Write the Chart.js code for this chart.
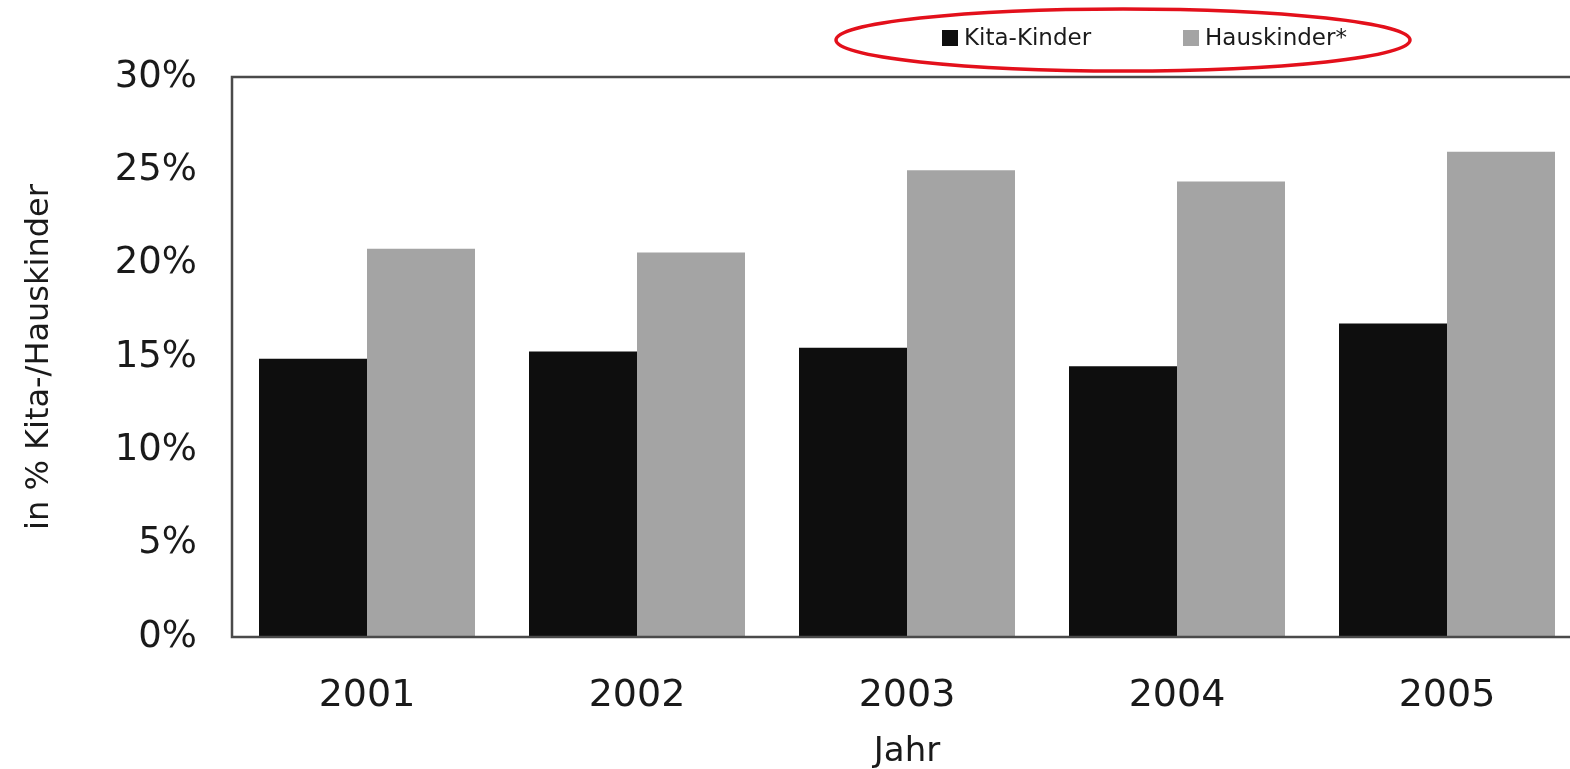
<!DOCTYPE html>
<html lang="de">
<head>
<meta charset="utf-8">
<title>Kita-Kinder / Hauskinder</title>
<script src="https://cdn.jsdelivr.net/npm/chart.js@4.4.1/dist/chart.umd.min.js"></script>
<style>
    html, body { margin: 0; padding: 0; background: #fff; overflow: hidden; }
    #wrap { position: relative; width: 1600px; height: 769px; }
</style>
</head>
<body>
<div id="wrap"><canvas id="balkenChart"></canvas></div>
<script>
// Daten
const jahre = ['2001', '2002', '2003', '2004', '2005'];
const kitaKinder = [14.9, 15.3, 15.5, 14.5, 16.8];
const hausKinder = [20.8, 20.6, 25.0, 24.4, 26.0];
const yTicks = [0, 5, 10, 15, 20, 25, 30];

const SCHRIFT = "'DejaVu Sans', 'Liberation Sans', sans-serif";
const TEXTFARBE = '#1a1a1a';

// Rahmen, Legende und rote Markierung zeichnen
const rahmenPlugin = {
    id: 'rahmen',
    afterDraw(chart) {
        const ctx = chart.ctx;
        const a = chart.chartArea;

        ctx.save();
        // Rahmen um den Plotbereich
        ctx.strokeStyle = '#4a4a4a';
        ctx.lineWidth = 2.5;
        ctx.strokeRect(a.left, a.top, a.right - a.left, a.bottom - a.top);

        // Legende
        const eintraege = [{ x: 942 }, { x: 1183 }];
        ctx.font = '23px ' + SCHRIFT;
        ctx.textBaseline = 'middle';
        ctx.textAlign = 'left';
        chart.data.datasets.forEach(function(ds, i) {
            const x = eintraege[i].x;
            ctx.fillStyle = ds.backgroundColor;
            ctx.fillRect(x, 30, 16, 16);
            ctx.fillStyle = TEXTFARBE;
            ctx.fillText(ds.label, x + 22, 39);
        });

        // rote Ellipse um die Legende
        ctx.strokeStyle = '#e3101b';
        ctx.lineWidth = 3.5;
        ctx.beginPath();
        ctx.ellipse(1123, 40, 287, 31, 0, 0, Math.PI * 2);
        ctx.stroke();
        ctx.restore();
    }
};

const ctx = document.getElementById('balkenChart').getContext('2d');
const chart = new Chart(ctx, {
    type: 'bar',
    data: {
        labels: jahre,
        datasets: [{
            label: 'Kita-Kinder',
            data: kitaKinder,
            backgroundColor: '#0e0e0e',
            borderWidth: 0,
            categoryPercentage: 0.8,
            barPercentage: 1.0
        }, {
            label: 'Hauskinder*',
            data: hausKinder,
            backgroundColor: '#a4a4a4',
            borderWidth: 0,
            categoryPercentage: 0.8,
            barPercentage: 1.0
        }]
    },
    options: {
        responsive: true,
        maintainAspectRatio: false,
        animation: false,
        layout: {
            padding: { top: 77, right: 18, left: 0, bottom: 0 }
        },
        plugins: {
            legend: { display: false },
            tooltip: { enabled: false }
        },
        scales: {
            x: {
                grid: { display: false, drawTicks: false },
                border: { display: false },
                ticks: {
                    color: TEXTFARBE,
                    font: { family: SCHRIFT, size: 38 },
                    padding: 36
                },
                title: {
                    display: true,
                    text: 'Jahr',
                    color: TEXTFARBE,
                    font: { family: SCHRIFT, size: 34, lineHeight: 1 },
                    padding: { top: 0, bottom: 0 }
                },
                afterFit: function(scale) { scale.height = 132; }
            },
            y: {
                min: yTicks[0],
                max: yTicks[yTicks.length - 1],
                grid: { display: false, drawTicks: false },
                border: { display: false },
                afterBuildTicks: function(scale) {
                    scale.ticks = yTicks.map(v => ({ value: v }));
                },
                ticks: {
                    color: TEXTFARBE,
                    font: { family: SCHRIFT, size: 37 },
                    padding: 35,
                    callback: v => v + '%'
                },
                title: {
                    display: true,
                    text: 'in % Kita-/Hauskinder',
                    color: TEXTFARBE,
                    font: { family: SCHRIFT, size: 32 },
                    padding: { top: 20, bottom: 0 }
                },
                afterFit: function(scale) { scale.width = 232; }
            }
        }
    },
    plugins: [rahmenPlugin]
});
</script>
</body>
</html>
